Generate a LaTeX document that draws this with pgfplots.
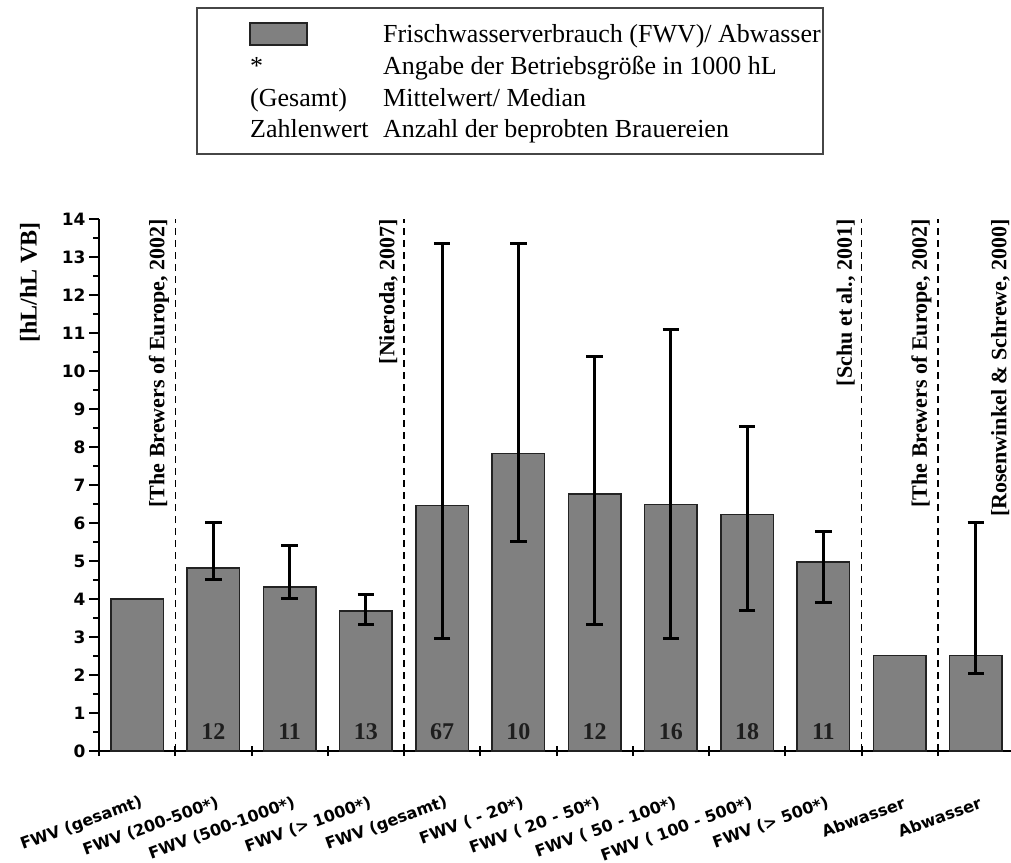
\documentclass[border=0pt]{standalone}
\usepackage{pgfplots}
\pgfplotsset{compat=1.18}
\usepackage{pgfplotstable}
\usepackage{fontspec}
\setmainfont{Liberation Serif}
\newfontfamily\dvs{DejaVu Sans}
\definecolor{barfill}{RGB}{128,128,128}
\definecolor{baredge}{RGB}{35,35,35}
\definecolor{legframe}{RGB}{70,70,70}
\definecolor{numcol}{RGB}{30,30,30}

\pgfplotstableread{
x y
0 4.00
1 4.81
2 4.31
3 3.69
4 6.46
5 7.83
6 6.76
7 6.49
8 6.23
9 4.97
10 2.51
11 2.51
}\bars

\pgfplotstableread{
x y ep em
1 4.81 1.21 0.29
2 4.31 1.09 0.29
3 3.69 0.44 0.36
4 6.46 6.90 3.51
5 7.83 5.53 2.32
6 6.76 3.62 3.44
7 6.49 4.59 3.54
8 6.23 2.30 2.52
9 4.97 0.80 1.07
11 2.51 3.50 0.48
}\errs

\pgfplotstableread{
x y n
1 0.5 12
2 0.5 11
3 0.5 13
4 0.5 67
5 0.5 10
6 0.5 12
7 0.5 16
8 0.5 18
9 0.5 11
}\counts

\begin{document}
\begin{tikzpicture}
\useasboundingbox (-99pt,-111pt) rectangle (912pt,751pt);
\begin{axis}[
  scale only axis, width=915pt, height=532pt,
  xmin=-0.5, xmax=11.5, ymin=0, ymax=14,
  clip=false,
  axis lines=left,
  axis line style={line width=2pt, -, black},
  xtick={-0.5,0.5,1.5,2.5,3.5,4.5,5.5,6.5,7.5,8.5,9.5,10.5},
  xticklabels={FWV (gesamt), FWV (200-500*), FWV (500-1000*), FWV (> 1000*), FWV (gesamt), FWV ( - 20*), FWV ( 20 - 50*), FWV ( 50 - 100*), FWV ( 100 - 500*), FWV (> 500*), Abwasser, Abwasser},
  ytick={0,1,...,14},
  minor y tick num=1,
  xtick align=center, ytick align=outside,
  major tick length=10pt, minor tick length=6pt,
  every tick/.style={black, line width=2pt},
  xticklabel style={font=\dvs\bfseries\fontsize{16}{16}\selectfont, inner sep=0pt, xshift=43pt, yshift=-46pt, rotate=20, anchor=east},
  yticklabel style={font=\dvs\bfseries\fontsize{17}{17}\selectfont},
  /pgf/number format/assume math mode=true,
  ylabel={[hL/hL VB]},
  every axis y label/.style={at={(axis description cs:-0.0754,0.9944)}, anchor=east, rotate=90, inner sep=0pt, font=\bfseries\fontsize{24}{24}\selectfont},
]
\addplot[ybar, bar width=52.3pt, bar shift=0pt, fill=barfill, draw=baredge, line width=1.5pt] table[x=x,y=y]{\bars};

\addplot[draw=none, mark=none, forget plot,
  error bars/.cd, y dir=both, y explicit, error mark=|,
  error bar style={draw=black, line width=3pt},
  error mark options={draw=black, line width=3pt, mark size=8.3pt}]
  table[x=x, y=y, y error plus=ep, y error minus=em]{\errs};

\addplot[draw=none, mark=none, nodes near coords, point meta=explicit symbolic,
  nodes near coords style={anchor=center, inner sep=0pt, font=\bfseries\fontsize{24}{24}\selectfont, text=numcol}]
  table[x=x,y=y,meta=n]{\counts};

\addplot[black, line width=1.5pt, dash pattern=on 7pt off 5pt] coordinates {(0.5,0) (0.5,14)};
\addplot[black, line width=1.5pt, dash pattern=on 7pt off 5pt] coordinates {(3.5,0) (3.5,14)};
\addplot[black, line width=1.5pt, dash pattern=on 7pt off 5pt] coordinates {(9.5,0) (9.5,14)};
\addplot[black, line width=1.5pt, dash pattern=on 7pt off 5pt] coordinates {(10.5,0) (10.5,14)};

\tikzset{srclab/.style={rotate=90, anchor=south east, inner xsep=0pt, inner ysep=6pt, font=\bfseries\fontsize{22}{22}\selectfont}}
\node[srclab] at (axis cs:0.5,14) {[The Brewers of Europe, 2002]};
\node[srclab] at (axis cs:3.5,14) {[Nieroda, 2007]};
\node[srclab] at (axis cs:9.5,14) {[Schu et al., 2001]};
\node[srclab] at (axis cs:10.5,14) {[The Brewers of Europe, 2002]};
\node[srclab, inner ysep=4pt] at (axis cs:11.5,14) {[Rosenwinkel \& Schrewe, 2000]};
\end{axis}

\draw[line width=2pt, draw=legframe] (98pt,597pt) rectangle (724pt,743pt);
\draw[fill=barfill, draw=baredge, line width=1.5pt] (151pt,706pt) rectangle (208pt,728pt);
\tikzset{legtxt/.style={anchor=base west, inner sep=0pt, font=\fontsize{26}{30}\selectfont}}
\node[legtxt] at (284pt,708pt) {Frischwasserverbrauch (FWV)/ Abwasser};
\node[legtxt] at (151pt,676pt) {*};
\node[legtxt] at (284pt,676pt) {Angabe der Betriebsgröße in 1000 hL};
\node[legtxt] at (151pt,644pt) {(Gesamt)};
\node[legtxt] at (284pt,644pt) {Mittelwert/ Median};
\node[legtxt] at (151pt,613pt) {Zahlenwert};
\node[legtxt] at (284pt,613pt) {Anzahl der beprobten Brauereien};
\end{tikzpicture}
\end{document}
